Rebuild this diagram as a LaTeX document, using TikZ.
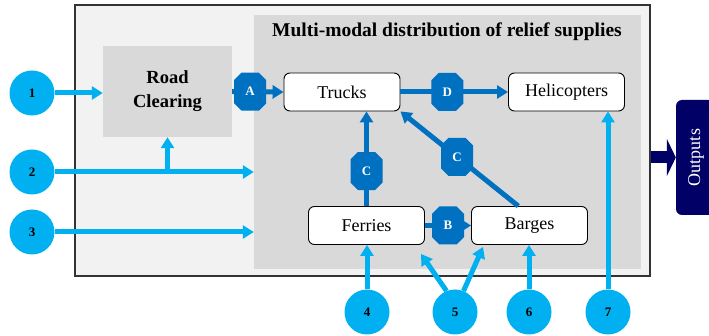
\documentclass[tikz,border=0pt]{standalone}
\usepackage{fontspec}
\setmainfont{Liberation Serif}
\usetikzlibrary{arrows.meta,shapes.geometric,shapes.misc,calc}
\definecolor{cyanA}{HTML}{00B0F0}
\definecolor{blueB}{HTML}{0070C0}
\definecolor{navyC}{HTML}{000066}
\definecolor{outerg}{HTML}{F2F2F2}
\definecolor{innerg}{HTML}{D9D9D9}
\begin{document}
\begin{tikzpicture}[x=1pt,y=-1pt,
  numc/.style={circle, fill=cyanA, minimum size=45pt, inner sep=0pt, font=\fontsize{13}{13}\selectfont\bfseries},
  oct/.style={chamfered rectangle, chamfered rectangle xsep=8pt, fill=blueB, minimum width=32pt, minimum height=38pt, inner sep=0pt, text=white, font=\fontsize{13}{13}\selectfont\bfseries},
  mode/.style={draw=black, line width=0.9pt, rounded corners=6pt, fill=white, minimum width=116pt, minimum height=38pt, inner sep=0pt, font=\fontsize{18}{18}\selectfont},
  cy/.style={draw=cyanA, line width=5pt, -{Triangle[length=11pt,width=13pt]}},
  bl/.style={draw=blueB, line width=5pt, -{Triangle[length=11pt,width=13pt]}},
]
\useasboundingbox (0,0) rectangle (709,336);
% containers
\node[draw=black!80, line width=1.2pt, fill=outerg, minimum width=575pt, minimum height=271pt, inner sep=0pt] (sys) at (362.5,140.5) {};
\node[fill=innerg, minimum width=387pt, minimum height=254pt, inner sep=0pt] (dist) at (447.5,142) {};
\node[font=\fontsize{19.5}{19.5}\selectfont\bfseries] (title) at (447,32) {Multi-modal distribution of relief supplies};
% boxes
\node[fill=innerg, minimum width=129pt, minimum height=91pt, inner sep=0pt, align=center, font=\fontsize{18.5}{24}\selectfont\bfseries] (road) at (167.5,91.5) {Road\\Clearing};
\node[mode] (trucks) at (342,92) {Trucks};
\node[mode] (helis) at (566.5,92) {Helicopters};
\node[mode] (ferries) at (366.5,225.5) {Ferries};
\node[mode] (barges) at (529.5,225.5) {Barges};
\node[fill=navyC, rounded corners=6pt, rotate=90, minimum width=115pt, minimum height=40pt, inner sep=0pt, text=white, font=\fontsize{18}{18}\selectfont] (outp) at (696,157.5) {Outputs};
% circles
\node[numc] (c1) at (32,93) {1};
\node[numc] (c2) at (32,172) {2};
\node[numc] (c3) at (32,232) {3};
\node[numc] (c4) at (367,312) {4};
\node[numc] (c5) at (455,312) {5};
\node[numc] (c6) at (529,312) {6};
\node[numc] (c7) at (608,312) {7};
% cyan inputs
\draw[cy] (c1.east) -- (c1.east -| road.west);
\draw[cy] (c2.east) -- (c2.east -| dist.west);
\draw[cy] (c2.east -| road.south) -- (road.south);
\draw[cy] (c3.east) -- (c3.east -| dist.west);
\draw[cy] (c4.north) -- (c4.north |- ferries.south);
\coordinate (f5) at ($(ferries.south east)+(-4,9)$);
\coordinate (b5) at ($(barges.south west)+(12,2)$);
\draw[cy] (c5.112) -- (f5);
\draw[cy] (c5.68) -- (b5);
\draw[cy] (c6.north) -- (c6.north |- barges.south);
\draw[cy] (c7.north) -- (c7.north |- helis.south);
% blue flows
\draw[bl] (road.east) -- node[oct, pos=0.35] (oA) {A} (trucks.west);
\draw[bl] (trucks.east) -- node[oct, pos=0.435] (oD) {D} (helis.west);
\draw[bl] (ferries.north) -- node[oct, pos=0.37] (oC1) {C} (ferries.north |- trucks.south);
\draw[bl] (barges.120) -- node[oct, pos=0.52] (oC2) {C} (trucks.south east);
\draw[bl] (ferries.east) -- node[oct, pos=0.5] (oB) {B} (barges.west);
% outputs
\draw[navyC, line width=12pt, -{Triangle[length=9pt,width=37pt]}] (sys.east |- outp.center) -- (outp.north);
\end{tikzpicture}
\end{document}
